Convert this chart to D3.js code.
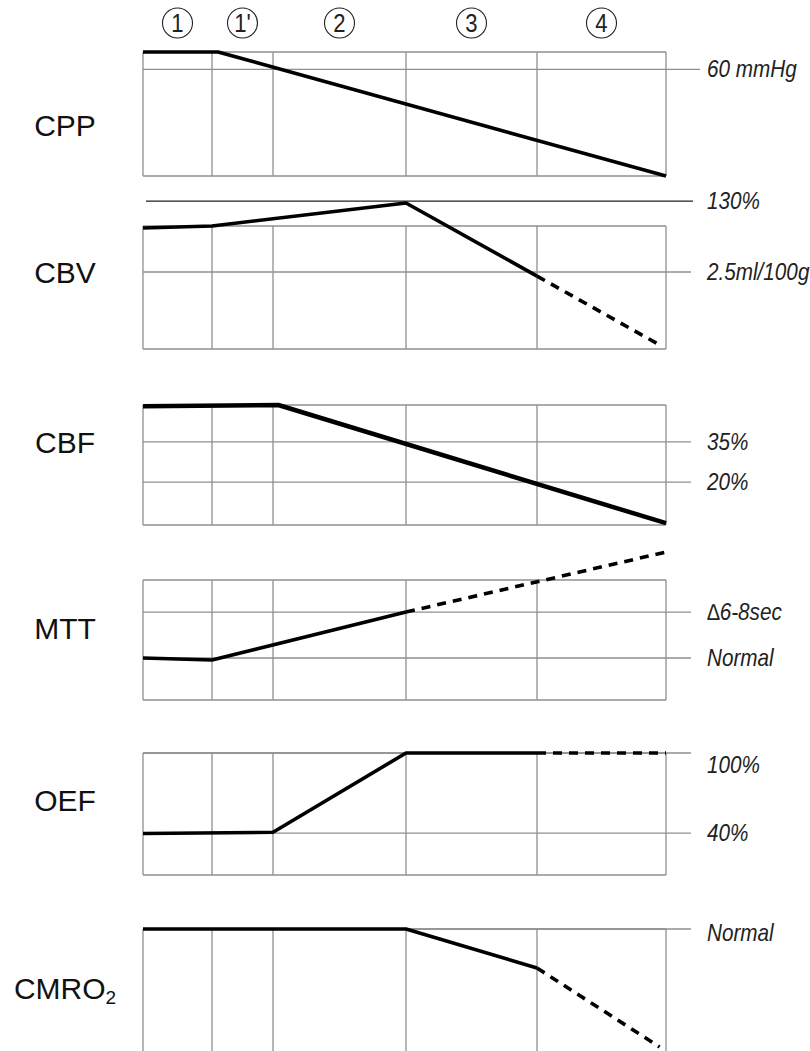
<!DOCTYPE html>
<html>
<head>
<meta charset="utf-8">
<script src="https://cdn.jsdelivr.net/npm/d3@7/dist/d3.min.js"></script>
<style>
  body { margin: 0; background: #fff; }
</style>
</head>
<body>
<div id="chart"></div>
<script>
// stages across the top, and the stage edges used as x domain
const stages = ["1", "1'", "2", "3", "4"];
const stageEdges = [0, 1, 2, 3, 4, 5];

const panelNames = ["CPP", "CBV", "CBF", "MTT", "OEF", "CMRO2"];

// values in panel units: 0 = bottom of box, 100 = top of box
const cppSolid = [[0, 100], [1.1, 100], [5, 0]];
const cppDashed = [];
const cppRefs = [86];
const cppRefLabels = ["60 mmHg"];

const cbvSolid = [[0, 98.4], [1, 100], [3, 118.7], [4, 59.3]];
const cbvDashed = [[4, 59.3], [4.95, 3.3]];
const cbvRefs = [120.3, 62.6];
const cbvRefLabels = ["130%", "2.5ml/100g"];

const cbfSolid = [[0, 99], [2.04, 100], [5, 1.5]];
const cbfDashed = [];
const cbfRefs = [69.2, 35.8];
const cbfRefLabels = ["35%", "20%"];

const mttSolid = [[0, 35], [1, 33.3], [3, 73.3]];
const mttDashed = [[3, 73.3], [5, 123.3]];
const mttRefs = [73.3, 35];
const mttRefLabels = ["\u22066-8sec", "Normal"];

const oefSolid = [[0, 34], [2, 35], [3, 100], [4, 100]];
const oefDashed = [[4, 100], [5, 100]];
const oefRefs = [100, 34.4];
const oefRefLabels = ["100%", "40%"];

const cmroSolid = [[0, 100], [3, 100], [4, 67.5]];
const cmroDashed = [[4, 67.5], [4.95, 1.7]];
const cmroRefs = [100];
const cmroRefLabels = ["Normal"];

// layout
const width = 810, height = 1051;
const colX = [143, 212, 273, 406, 537, 666];
const panelTop = [52, 226, 405, 580, 753, 929];
const panelH = [124, 123, 120, 120, 122, 120];
const labelY = [125, 272, 442, 628, 800, 988];
const gridColor = "#8f8f8f";

const table = [
  {solid: cppSolid, dashed: cppDashed, refs: cppRefs, labels: cppRefLabels},
  {solid: cbvSolid, dashed: cbvDashed, refs: cbvRefs, labels: cbvRefLabels},
  {solid: cbfSolid, dashed: cbfDashed, refs: cbfRefs, labels: cbfRefLabels},
  {solid: mttSolid, dashed: mttDashed, refs: mttRefs, labels: mttRefLabels},
  {solid: oefSolid, dashed: oefDashed, refs: oefRefs, labels: oefRefLabels},
  {solid: cmroSolid, dashed: cmroDashed, refs: cmroRefs, labels: cmroRefLabels}
];

const x = d3.scaleLinear().domain(stageEdges).range(colX);

const svg = d3.select("#chart").append("svg")
    .attr("width", width)
    .attr("height", height)
    .style("font-family", "'Liberation Sans', Arial, sans-serif");

// circled stage numbers
const head = svg.append("g")
    .selectAll("g")
    .data(stages)
    .join("g")
    .attr("transform", (d, i) => `translate(${(x(i) + x(i + 1)) / 2},23)`);

head.append("circle")
    .attr("r", 15)
    .attr("fill", "none")
    .attr("stroke", "#222")
    .attr("stroke-width", 1.1);

head.append("text")
    .attr("text-anchor", "middle")
    .attr("dy", "0.36em")
    .attr("transform", "scale(0.85,1)")
    .style("font-size", "26px")
    .attr("fill", "#222")
    .text(d => d);

table.forEach((p, i) => {
  const top = panelTop[i];
  const bottom = top + panelH[i];
  const open = i === panelNames.length - 1; // last box runs off the page
  const y = d3.scaleLinear().domain([0, 100]).range([bottom, top]);
  const g = svg.append("g");

  // vertical grid lines
  g.selectAll(".v")
      .data(stageEdges)
      .join("line")
      .attr("x1", d => x(d)).attr("x2", d => x(d))
      .attr("y1", top).attr("y2", open ? height + 5 : bottom)
      .attr("stroke", gridColor)
      .attr("stroke-width", 1.3);

  // box top / bottom
  g.selectAll(".h")
      .data(open ? [top] : [top, bottom])
      .join("line")
      .attr("x1", x(0)).attr("x2", x(5))
      .attr("y1", d => d).attr("y2", d => d)
      .attr("stroke", gridColor)
      .attr("stroke-width", 1.3);

  // reference lines and their labels
  p.refs.forEach((v, j) => {
    const outside = v > 100;
    g.append("line")
        .attr("x1", outside ? x(0) + 3 : x(0))
        .attr("x2", i === 0 ? 700 : (outside ? 693 : 691))
        .attr("y1", y(v)).attr("y2", y(v))
        .attr("stroke", outside ? "#222" : gridColor)
        .attr("stroke-width", outside ? 1.2 : 1.3);
    let dy = 0;
    if (v === 100) dy = i === 4 ? 12 : 4;
    g.append("text")
        .attr("transform", `translate(707,${y(v) + dy}) scale(0.9,1)`)
        .attr("dy", "0.35em")
        .style("font-size", "23px")
        .style("font-style", "italic")
        .attr("fill", "#222")
        .text(p.labels[j]);
  });

  const line = d3.line().x(d => x(d[0])).y(d => y(d[1]));

  g.append("path")
      .attr("d", line(p.solid))
      .attr("fill", "none")
      .attr("stroke", "#000")
      .attr("stroke-width", i === 2 ? 4.5 : 3.6)
      .attr("stroke-linejoin", "round");

  if (p.dashed.length) {
    g.append("path")
        .attr("d", line(p.dashed))
        .attr("fill", "none")
        .attr("stroke", "#000")
        .attr("stroke-width", 3.6)
        .attr("stroke-dasharray", "9,7");
  }

  // panel name
  const name = g.append("text")
      .attr("x", 65)
      .attr("y", labelY[i])
      .attr("dy", "0.35em")
      .attr("text-anchor", "middle")
      .style("font-size", "30px")
      .attr("fill", "#111");
  if (panelNames[i] === "CMRO2") {
    name.append("tspan").text("CMRO");
    name.append("tspan").attr("dy", "0.3em").style("font-size", "19px").text("2");
  } else {
    name.text(panelNames[i]);
  }
});
</script>
</body>
</html>
